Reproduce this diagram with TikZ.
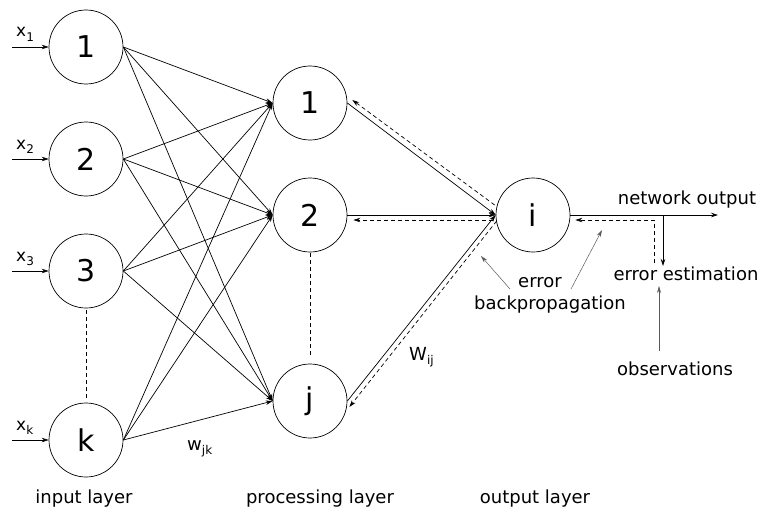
\documentclass[tikz,border=0pt]{standalone}
\usepackage{fontspec}
\setmainfont{DejaVu Sans}
\usetikzlibrary{arrows.meta,calc}

% lowered index written after a letter
\newcommand\lowsub[1]{\raisebox{-0.45ex}{\fontsize{12}{12}\selectfont #1}}

\begin{document}
\begin{tikzpicture}[x=1pt,y=-1pt,
  neuron/.style={circle,draw,line width=0.7pt,minimum size=74pt,inner sep=0pt,
                 font=\fontsize{30}{30}\selectfont},
  link/.style={line width=0.7pt,-{Stealth[length=7pt,width=4.5pt]}},
  back/.style={link,dash pattern=on 4pt off 3pt},
  pointer/.style={line width=0.5pt,draw=black!65,-{Stealth[length=7pt,width=4pt]}},
  skip/.style={line width=0.7pt,dash pattern=on 4pt off 3pt},
  lbl/.style={font=\fontsize{18}{18}\selectfont,inner sep=0pt},
  inlbl/.style={font=\fontsize{17}{17}\selectfont,inner sep=0pt,anchor=base west}
]
\useasboundingbox (0,0) rectangle (762,508);

% input layer
\node[neuron] (a1) at (86,47)  {1};
\node[neuron] (a2) at (86,159) {2};
\node[neuron] (a3) at (86,271) {3};
\node[neuron] (ak) at (86,440) {k};

% processing layer
\node[neuron] (b1) at (310,103) {1};
\node[neuron] (b2) at (310,215) {2};
\node[neuron] (bj) at (310,401) {j};

% output layer
\node[neuron] (oi) at (533,215) {i};

% inputs
\foreach \n/\s/\y in {a1/1/47, a2/2/159, a3/3/271, ak/k/440}{
  \coordinate (in-\n) at (12,\y);
  \draw[link] (in-\n) -- (\n.west);
  \node[inlbl] (x-\n) at (16,\y-10) {x\lowsub{\s}};
}

% omitted neurons
\draw[skip] ($(a3.south)+(0,2)$) -- ($(ak.north)+(0,-5)$);
\draw[skip] ($(b2.south)+(0,1)$) -- ($(bj.north)+(0,-6)$);

% full connection input -> processing
\foreach \a in {a1,a2,a3,ak}
  \foreach \b in {b1,b2,bj}
    \draw[link] (\a.east) -- (\b.west);

% processing -> output with backpropagated error
\draw[link] (b1.east) -- (oi.west);
\draw[back] ($(oi.west)+(-1,-10)$) -- ($(b1.east)+(5,-3)$);
\draw[link] (b2.east) -- (oi.west);
\draw[back] ($(oi.west)+(-3,5)$) -- ($(b2.east)+(6,5)$);
\draw[link] (bj.east) -- (oi.west);
\draw[back] ($(oi.west)+(1,6)$) -- ($(bj.east)+(2,6)$);

% weights
\node[inlbl,font=\fontsize{18}{18}\selectfont] (wjk) at (187,450) {w\lowsub{jk}};
\node[inlbl,font=\fontsize{18}{18}\selectfont] (wij) at (409,360) {W\lowsub{ij}};

% network output and error estimation
\coordinate (netout) at (718,215);
\draw[link] (oi.east) -- (netout);
\node[lbl,anchor=base] (no) at (687,204) {network output};
\node[lbl,anchor=base] (ee) at (686,280) {error estimation};
\node[lbl,anchor=base] (obs) at (675,375) {observations};

\coordinate (tap) at (663,215);
\coordinate (tapend) at (663,266);
\draw[link] (tap) -- (tapend);
\coordinate (errsrc) at (654,263);
\draw[back] (errsrc) |- ($(oi.east)+(5,5)$);

\coordinate (obstip) at (659,286);
\coordinate (obsfoot) at (659,351);
\draw[pointer] (obsfoot) -- (obstip);

% error backpropagation
\node[lbl,anchor=base] (bp1) at (540,287) {error};
\node[lbl,anchor=base] (bp2) at (550,309) {backpropagation};
\coordinate (bpl) at (481,256);
\coordinate (bpr) at (602,230);
\draw[pointer] (510,289) -- (bpl);
\draw[pointer] (571,289) -- (bpr);

% layer titles
\node[lbl,anchor=base] (tin)  at (84,503)  {input layer};
\node[lbl,anchor=base] (tpr)  at (320,503) {processing layer};
\node[lbl,anchor=base] (tout) at (535,503) {output layer};
\end{tikzpicture}
\end{document}
